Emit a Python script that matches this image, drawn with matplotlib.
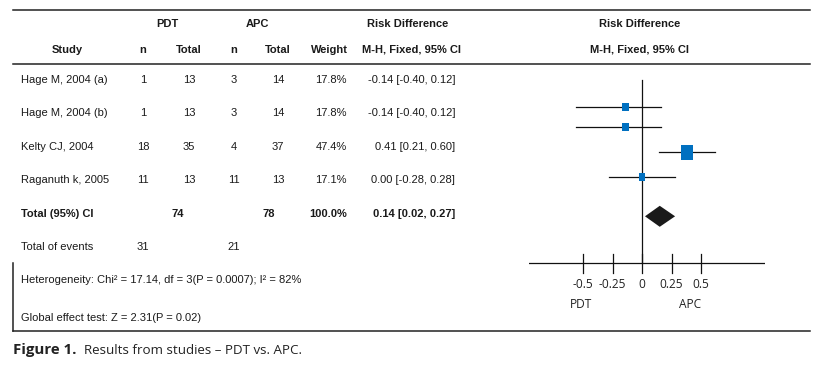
import matplotlib
matplotlib.use('Agg')
import matplotlib.pyplot as plt
from matplotlib.patches import Rectangle, Polygon

# table data
studies = ['Hage M, 2004 (a)', 'Hage M, 2004 (b)', 'Kelty CJ, 2004', 'Raganuth k, 2005']
pdt_n = [1, 1, 18, 11]
pdt_total = [13, 13, 35, 13]
apc_n = [3, 3, 4, 11]
apc_total = [14, 14, 37, 13]
weights = [17.8, 17.8, 47.4, 17.1]
ci_text = ['-0.14 [-0.40, 0.12]', '-0.14 [-0.40, 0.12]', '0.41 [0.21, 0.60]', '0.00 [-0.28, 0.28]']
total_pdt, total_apc = 74, 78
events_pdt, events_apc = 31, 21
total_ci_text = '0.14 [0.02, 0.27]'

# forest plot values as drawn
est = [-0.14, -0.14, 0.38, 0.00]
lo = [-0.56, -0.56, 0.14, -0.28]
hi = [0.16, 0.16, 0.62, 0.28]
pooled = [0.025, 0.15, 0.28]   # low, centre, high of diamond
ticks = [-0.5, -0.25, 0, 0.25, 0.5]
tick_labels = ['-0.5', '-0.25', '0', '0.25', '0.5']

TF = ['Liberation Sans Narrow', 'Liberation Sans', 'DejaVu Sans']
CF = ['Open Sans', 'DejaVu Sans']
fs = 8.0

fig = plt.figure(figsize=(8.18, 3.70), dpi=100)
ax = fig.add_axes([0, 0, 1, 1])
ax.set_xlim(0, 818)
ax.set_ylim(370, 0)
ax.axis('off')

def t(x, y, s, ha='left', bold=False, fam=TF, size=fs):
    ax.text(x, y, s, ha=ha, va='center', family=fam, fontsize=size,
            fontweight='bold' if bold else 'normal', color='#1a1a1a')

# rules
ax.plot([13, 810], [9.5, 9.5], color='#222', lw=1.1)
ax.plot([13, 810], [64, 64], color='#222', lw=1.1)
ax.plot([13, 810], [331, 331], color='#222', lw=1.1)
ax.plot([13, 13], [263, 331], color='#222', lw=1.1)

# headers
t(167, 24, 'PDT', 'center', True)
t(257, 24, 'APC', 'center', True)
t(408, 24, 'Risk Difference', 'center', True)
t(640, 24, 'Risk Difference', 'center', True)
t(67, 50, 'Study', 'center', True)
t(143, 50, 'n', 'center', True)
t(189, 50, 'Total', 'center', True)
t(234, 50, 'n', 'center', True)
t(278, 50, 'Total', 'center', True)
t(329, 50, 'Weight', 'center', True)
t(411, 50, 'M-H, Fixed, 95% CI', 'center', True)
t(640, 50, 'M-H, Fixed, 95% CI', 'center', True)

row0, step = 80, 33.4
for i, s in enumerate(studies):
    y = row0 + i * step
    t(21, y, s)
    t(143, y, str(pdt_n[i]), 'center')
    t(189, y, str(pdt_total[i]), 'center')
    t(234, y, str(apc_n[i]), 'center')
    t(278, y, str(apc_total[i]), 'center')
    t(347, y, f'{weights[i]:.1f}%', 'right')
    t(455, y, ci_text[i], 'right')

y = row0 + 4 * step
t(21, y, 'Total (95%) CI', bold=True)
t(178, y, str(total_pdt), 'center', True)
t(269, y, str(total_apc), 'center', True)
t(347, y, '100.0%', 'right', True)
t(455, y, total_ci_text, 'right', True)
y = row0 + 5 * step
t(21, y, 'Total of events')
t(143, y, str(events_pdt), 'center')
t(234, y, str(events_apc), 'center')

t(21, 280, 'Heterogeneity: Chi² = 17.14, df = 3(P = 0.0007); I² = 82%')
t(21, 318, 'Global effect test: Z = 2.31(P = 0.02)')

ax.text(13, 350, 'Figure 1.', ha='left', va='center', family=CF, fontsize=10.8,
        fontweight='bold', color='#222')
ax.text(84, 350, 'Results from studies – PDT vs. APC.', ha='left', va='center',
        family=CF, fontsize=9.6, color='#222')

# forest panel
x0, x1 = 529, 765
fa = fig.add_axes([x0 / 818, 0, (x1 - x0) / 818, 1])
fa.set_xlim(-0.958, 1.042)
fa.set_ylim(370, 0)
fa.axis('off')

axis_y = 263
forest_y = [106.7, 126.7, 152.3, 176.7]
fa.plot([0, 0], [80, axis_y], color='#111', lw=0.9)
fa.plot([-0.958, 1.042], [axis_y, axis_y], color='#111', lw=0.9)
for tk, lb in zip(ticks, tick_labels):
    fa.plot([tk, tk], [254, 273], color='#111', lw=0.9)
    fa.text(tk, 284, lb, ha='center', va='center', family=CF, fontsize=8.6, color='#222')
fa.text(-0.52, 305, 'PDT', ha='center', va='center', family=CF, fontsize=8.6, color='#222')
fa.text(0.41, 305, 'APC', ha='center', va='center', family=CF, fontsize=8.6, color='#222')

upx = 118.0  # pixels per unit
for i in range(len(est)):
    yy = forest_y[i]
    fa.plot([lo[i], hi[i]], [yy, yy], color='#111', lw=0.9)
    wpx = weights[i] * 0.2 + 2.5
    hpx = wpx * 1.3
    fa.add_patch(Rectangle((est[i] - wpx / upx / 2, yy - hpx / 2), wpx / upx, hpx,
                           facecolor='#0070c0', edgecolor='none', zorder=3))

dy = 216.3
fa.add_patch(Polygon([(pooled[0], dy), (pooled[1], dy - 10.5), (pooled[2], dy),
                      (pooled[1], dy + 10.5)], closed=True, facecolor='#1a1a1a',
                     edgecolor='none', zorder=3))

plt.savefig('out.png', dpi=100)
